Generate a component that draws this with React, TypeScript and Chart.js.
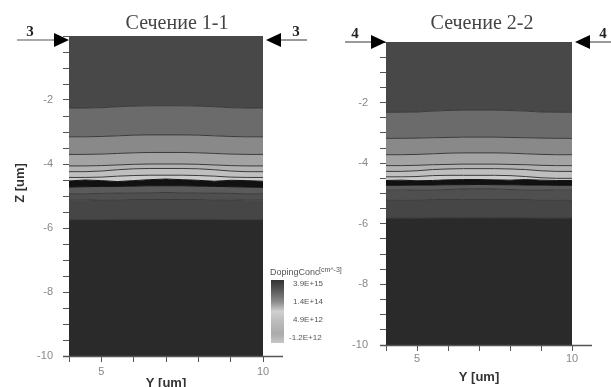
import React, { useEffect, useRef } from 'react';
import { Chart, registerables } from 'chart.js';
Chart.register(...registerables);

// Lateral positions (Y, um) where the contour boundaries are sampled
const yPositions = [4, 4.5, 5, 5.5, 6, 6.5, 7, 7.5, 8, 8.5, 9, 9.5, 10];

// Section 1-1: contour boundaries (Z, um), top to bottom
const s1b1 = [-2.25, -2.25, -2.24, -2.21, -2.19, -2.18, -2.18, -2.18, -2.19, -2.21, -2.24, -2.25, -2.25];
const s1b2 = [-3.15, -3.15, -3.14, -3.12, -3.10, -3.09, -3.09, -3.09, -3.10, -3.12, -3.14, -3.15, -3.15];
const s1b3 = [-3.70, -3.70, -3.69, -3.67, -3.65, -3.64, -3.64, -3.64, -3.65, -3.67, -3.69, -3.70, -3.70];
const s1b4 = [-4.06, -4.06, -4.05, -4.03, -4.01, -4.00, -4.00, -4.00, -4.01, -4.03, -4.05, -4.06, -4.06];
const s1b5 = [-4.24, -4.24, -4.22, -4.18, -4.15, -4.14, -4.14, -4.14, -4.15, -4.18, -4.22, -4.24, -4.24];
const s1b6 = [-4.42, -4.42, -4.41, -4.38, -4.36, -4.35, -4.35, -4.35, -4.36, -4.38, -4.41, -4.42, -4.42];
const s1b7 = [-4.53, -4.50, -4.52, -4.55, -4.52, -4.49, -4.47, -4.49, -4.51, -4.54, -4.51, -4.52, -4.54];
const s1b8 = [-4.72, -4.71, -4.70, -4.70, -4.69, -4.68, -4.68, -4.68, -4.69, -4.70, -4.71, -4.72, -4.73];
const s1b9 = [-4.93, -4.93, -4.92, -4.91, -4.90, -4.90, -4.89, -4.90, -4.90, -4.91, -4.92, -4.93, -4.93];
const s1b10 = [-5.13, -5.13, -5.12, -5.12, -5.11, -5.11, -5.11, -5.11, -5.11, -5.12, -5.12, -5.13, -5.13];
const s1b11 = [-5.74, -5.74, -5.74, -5.73, -5.73, -5.73, -5.73, -5.73, -5.73, -5.73, -5.74, -5.74, -5.74];

// Section 2-2: contour boundaries (Z, um), top to bottom
const s2b1 = [-2.32, -2.32, -2.31, -2.28, -2.26, -2.25, -2.25, -2.25, -2.26, -2.28, -2.31, -2.32, -2.32];
const s2b2 = [-3.18, -3.18, -3.17, -3.16, -3.15, -3.14, -3.14, -3.14, -3.15, -3.16, -3.17, -3.18, -3.18];
const s2b3 = [-3.72, -3.72, -3.71, -3.69, -3.67, -3.66, -3.66, -3.66, -3.67, -3.69, -3.71, -3.72, -3.72];
const s2b4 = [-4.08, -4.08, -4.07, -4.05, -4.04, -4.03, -4.03, -4.03, -4.04, -4.05, -4.07, -4.08, -4.08];
const s2b5 = [-4.27, -4.27, -4.25, -4.21, -4.19, -4.18, -4.18, -4.18, -4.19, -4.21, -4.25, -4.27, -4.27];
const s2b6 = [-4.45, -4.45, -4.44, -4.41, -4.40, -4.40, -4.40, -4.40, -4.41, -4.44, -4.48, -4.50, -4.50];
const s2b7 = [-4.57, -4.56, -4.58, -4.57, -4.55, -4.54, -4.54, -4.55, -4.56, -4.54, -4.56, -4.57, -4.57];
const s2b8 = [-4.73, -4.73, -4.72, -4.72, -4.71, -4.71, -4.70, -4.71, -4.71, -4.72, -4.72, -4.73, -4.73];
const s2b9 = [-4.89, -4.89, -4.88, -4.88, -4.87, -4.85, -4.84, -4.85, -4.87, -4.88, -4.88, -4.89, -4.89];
const s2b10 = [-5.21, -5.21, -5.21, -5.20, -5.20, -5.20, -5.20, -5.20, -5.20, -5.20, -5.21, -5.21, -5.21];
const s2b11 = [-5.81, -5.81, -5.81, -5.80, -5.80, -5.80, -5.80, -5.80, -5.80, -5.80, -5.81, -5.81, -5.81];

// Band fills, top band first, bottom band last
const bandColors = ['#484848', '#6b6b6b', '#898989', '#a3a3a3', '#b2b2b2', '#bfbfbf', '#cbcbcb', '#111111', '#5a5a5a', '#4f4f4f', '#464646', '#2a2a2a'];

// Axis ticks
const zLabels = [-2, -4, -6, -8, -10];
const yLabels = [5, 10];

// Colour legend
const legendLabels = ['3.9E+15', '1.4E+14', '4.9E+12', '-1.2E+12'];

const titles = ['Сечение 1-1', 'Сечение 2-2'];

function makeDatasets(bounds: number[][]) {
  const toPts = (b: number[]) => yPositions.map((x, i) => ({ x, y: b[i] }));
  const ds: any[] = bounds.map((b, i) => ({
    data: toPts(b),
    fill: i === 0 ? 'end' : '-1',
    backgroundColor: bandColors[i],
    borderColor: i === 6 || i === 7 ? '#111' : '#3a3a3a',
    borderWidth: 1,
    pointRadius: 0,
    tension: 0,
  }));
  ds.push({
    data: toPts(bounds[bounds.length - 1]),
    fill: 'start',
    backgroundColor: bandColors[bandColors.length - 1],
    borderColor: '#3a3a3a',
    borderWidth: 1,
    pointRadius: 0,
    tension: 0,
  });
  return ds;
}

function drawArrow(ctx: CanvasRenderingContext2D, tipX: number, y: number, dir: number, lineEnd: number) {
  ctx.strokeStyle = '#555';
  ctx.lineWidth = 1.2;
  ctx.beginPath();
  ctx.moveTo(tipX - dir * 14, y);
  ctx.lineTo(lineEnd, y);
  ctx.stroke();
  ctx.fillStyle = '#000';
  ctx.beginPath();
  ctx.moveTo(tipX, y);
  ctx.lineTo(tipX - dir * 15, y - 7);
  ctx.lineTo(tipX - dir * 15, y + 7);
  ctx.closePath();
  ctx.fill();
}

function decorPlugin(cfg: any) {
  return {
    id: 'decor',
    afterDraw(chart: any) {
      const ctx: CanvasRenderingContext2D = chart.ctx;
      const { left, right, bottom } = chart.chartArea;
      ctx.save();
      // section title
      ctx.font = '20px "Liberation Serif"';
      ctx.fillStyle = '#444';
      ctx.textAlign = 'center';
      ctx.textBaseline = 'middle';
      ctx.fillText(cfg.title, cfg.titleX, 24);
      // section markers
      drawArrow(ctx, left, cfg.arrowY, 1, cfg.lineStartL);
      drawArrow(ctx, right + 3, cfg.arrowY, -1, cfg.lineEndR);
      ctx.fillStyle = '#222';
      ctx.font = 'bold 15px "Liberation Serif"';
      ctx.fillText(cfg.mark, cfg.markL, cfg.arrowY - 8);
      ctx.fillText(cfg.mark, cfg.markR, cfg.arrowY - 8);
      // extended x axis line
      ctx.strokeStyle = '#555';
      ctx.lineWidth = 1.5;
      ctx.beginPath();
      ctx.moveTo(left - 6, bottom + 0.5);
      ctx.lineTo(right + 20, bottom + 0.5);
      ctx.stroke();
      if (cfg.zTitle) {
        ctx.save();
        ctx.translate(20, 183);
        ctx.rotate(-Math.PI / 2);
        ctx.font = 'bold 13px "Liberation Sans"';
        ctx.fillStyle = '#333';
        ctx.fillText('Z [um]', 0, 0);
        ctx.restore();
      }
      if (cfg.legend) {
        const lx = 271, ly = 280, lw = 13, lh = 63;
        const g = ctx.createLinearGradient(0, ly, 0, ly + lh);
        g.addColorStop(0, '#333');
        g.addColorStop(0.15, '#555');
        g.addColorStop(0.35, '#8c8c8c');
        g.addColorStop(0.5, '#d0d0d0');
        g.addColorStop(0.65, '#bdbdbd');
        g.addColorStop(0.85, '#ababab');
        g.addColorStop(1, '#c6c6c6');
        ctx.fillStyle = g;
        ctx.fillRect(lx, ly, lw, lh);
        ctx.fillStyle = '#555';
        ctx.textAlign = 'left';
        ctx.font = '9px "Liberation Sans"';
        ctx.fillText('DopingConc', 270, 273);
        ctx.font = '7px "Liberation Sans"';
        ctx.fillText('[cm^-3]', 319, 270);
        ctx.font = '8px "Liberation Sans"';
        const ys = [284, 302, 320, 338];
        legendLabels.forEach((t, i) => {
          ctx.fillText(t, t.startsWith('-') ? 289 : 293, ys[i]);
        });
      }
      ctx.restore();
    },
  };
}

function makeConfig(bounds: number[][], lay: any, cfg: any) {
  return {
    type: 'line' as const,
    data: { datasets: makeDatasets(bounds) },
    plugins: [decorPlugin(cfg)],
    options: {
      animation: false as const,
      responsive: false,
      layout: { padding: { top: lay.top, right: lay.right, left: 0, bottom: 0 } },
      plugins: { legend: { display: false }, tooltip: { enabled: false } },
      scales: {
        x: {
          type: 'linear' as const,
          min: 4,
          max: 10,
          afterFit: (s: any) => { s.height = lay.xh; },
          ticks: {
            stepSize: 1,
            autoSkip: false,
            maxRotation: 0,
            padding: lay.xpad,
            color: '#888',
            font: { family: 'Liberation Sans', size: 11 },
            callback: (v: any) => (yLabels.includes(v) ? String(v) : ''),
          },
          grid: { drawOnChartArea: false, drawTicks: true, tickLength: 6, color: '#555' },
          border: { display: true, color: '#555' },
          title: {
            display: true,
            text: 'Y [um]',
            color: '#333',
            font: { family: 'Liberation Sans', size: 13, weight: 'bold' as const },
            padding: { top: 0, bottom: lay.titlePad },
          },
        },
        y: {
          type: 'linear' as const,
          min: -10,
          max: 0,
          afterFit: (s: any) => { s.width = lay.yw; },
          ticks: {
            stepSize: 0.5,
            autoSkip: false,
            padding: lay.ypad,
            color: '#888',
            font: { family: 'Liberation Sans', size: 11 },
            callback: (v: any) => (zLabels.includes(v) ? String(v) : ''),
          },
          grid: { drawOnChartArea: false, drawTicks: true, tickLength: 6, color: '#555' },
          border: { display: true, color: '#555' },
        },
      },
    },
  };
}

export default function App() {
  const ref1 = useRef<HTMLCanvasElement>(null);
  const ref2 = useRef<HTMLCanvasElement>(null);

  useEffect(() => {
    const c1 = new Chart(
      ref1.current as HTMLCanvasElement,
      makeConfig(
        [s1b1, s1b2, s1b3, s1b4, s1b5, s1b6, s1b7, s1b8, s1b9, s1b10, s1b11],
        { top: 36, right: 380 - 263, xh: 31, yw: 69, xpad: 3, ypad: 10, titlePad: -4 },
        { title: titles[0], titleX: 177, arrowY: 40, lineStartL: 17, lineEndR: 307, mark: '3', markL: 30, markR: 296, zTitle: true, legend: true }
      ) as any
    );
    const c2 = new Chart(
      ref2.current as HTMLCanvasElement,
      makeConfig(
        [s2b1, s2b2, s2b3, s2b4, s2b5, s2b6, s2b7, s2b8, s2b9, s2b10, s2b11],
        { top: 42, right: 306 - 267, xh: 42, yw: 81, xpad: 1, ypad: 12, titlePad: 2 },
        { title: titles[1], titleX: 177, arrowY: 42, lineStartL: 40, lineEndR: 306, mark: '4', markL: 50, markR: 298, zTitle: false, legend: false }
      ) as any
    );
    return () => {
      c1.destroy();
      c2.destroy();
    };
  }, []);

  return (
    <div style={{ position: 'fixed', left: 0, top: 0, width: 611, height: 387, background: '#fff', overflow: 'hidden' }}>
      <canvas ref={ref1} width={380} height={387} style={{ position: 'absolute', left: 0, top: 0 }} />
      <canvas ref={ref2} width={306} height={387} style={{ position: 'absolute', left: 305, top: 0 }} />
    </div>
  );
}
